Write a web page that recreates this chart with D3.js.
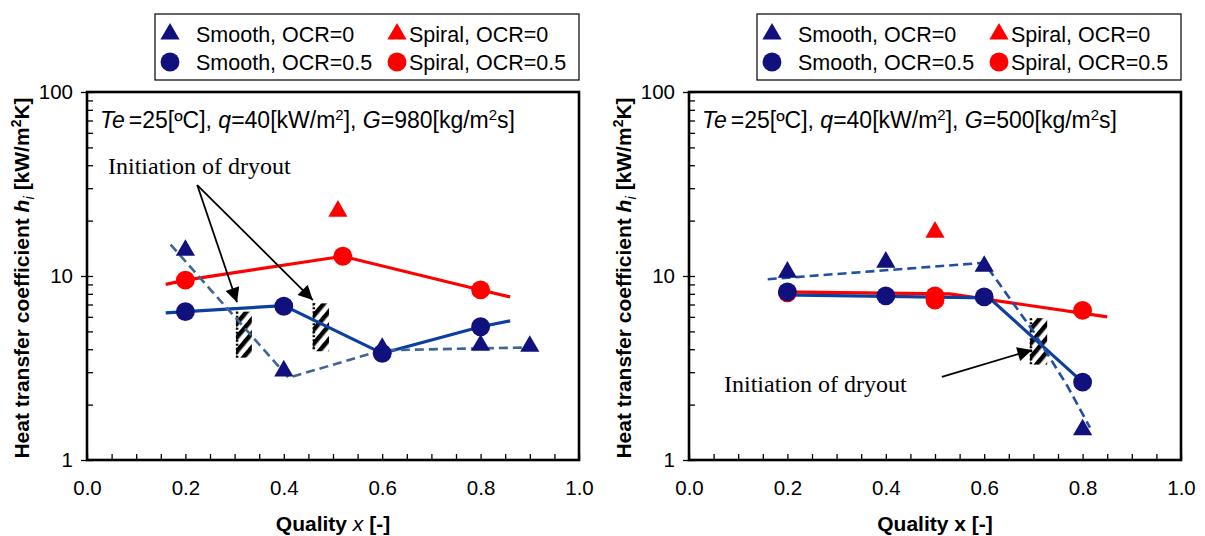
<!DOCTYPE html>
<html>
<head>
<meta charset="utf-8">
<script src="https://cdn.jsdelivr.net/npm/d3@7"></script>
<style>
  body { margin: 0; background: #fff; }
  svg { display: block; }
</style>
</head>
<body>
<div class="chart"></div>
<script>
// tick labels and legend
var xTicks = [0, 0.2, 0.4, 0.6, 0.8, 1.0];
var yTicks = [1, 10, 100];
var legendLabels = ["Smooth, OCR=0", "Spiral, OCR=0", "Smooth, OCR=0.5", "Spiral, OCR=0.5"];

// G = 980 (left)  [quality x, h]
var g980SmoothOcr0 = [[0.2, 13.8], [0.4, 3.05], [0.6, 4.05], [0.8, 4.2], [0.9, 4.15]];
var g980SmoothOcr05 = [[0.2, 6.4], [0.4, 6.85], [0.6, 3.8], [0.8, 5.3]];
var g980SpiralOcr0 = [[0.51, 22.5]];
var g980SpiralOcr05 = [[0.2, 9.5], [0.52, 12.8], [0.8, 8.4]];
var g980SmoothOcr0Line = [[0.17, 14.8], [0.41, 2.8], [0.6, 3.95], [0.92, 4.1]];
var g980SmoothOcr05Line = [[0.16, 6.3], [0.2, 6.4], [0.4, 6.9], [0.6, 3.8], [0.8, 5.3], [0.86, 5.7]];
var g980SpiralOcr05Line = [[0.16, 9.0], [0.2, 9.5], [0.52, 12.8], [0.8, 8.4], [0.86, 7.7]];
var g980Dryout = [[0.303, 0.335, 3.6, 6.4], [0.459, 0.492, 3.9, 7.1]];

// G = 500 (right)
var g500SmoothOcr0 = [[0.2, 10.5], [0.4, 11.9], [0.6, 11.3], [0.8, 1.46]];
var g500SmoothOcr05 = [[0.2, 8.2], [0.4, 7.8], [0.6, 7.7], [0.8, 2.65]];
var g500SpiralOcr0 = [[0.5, 17.3]];
var g500SpiralOcr05 = [[0.2, 8.1], [0.5, 7.8], [0.5, 7.4], [0.8, 6.5]];
var g500SmoothOcr0Line = [[0.16, 9.6], [0.6, 11.8], [0.7, 5.0], [0.77, 2.5], [0.815, 1.5]];
var g500SmoothOcr05Line = [[0.19, 7.9], [0.61, 7.6], [0.8, 2.65]];
var g500SpiralOcr05Line = [[0.185, 8.2], [0.53, 8.0], [0.85, 6.0]];
var g500Dryout = [[0.693, 0.728, 3.3, 5.9]];

var width = 1205, height = 536;
var navy = "#11117e", red = "#ff0000";
var sans = "'Liberation Sans', Arial, sans-serif";
var serif = "'Liberation Serif', 'Times New Roman', serif";

var svg = d3.select("div.chart").append("svg").attr("width", width).attr("height", height)
  .style("font-family", sans);

var defs = svg.append("defs");
var pat = defs.append("pattern")
  .attr("id", "hatch")
  .attr("patternUnits", "userSpaceOnUse")
  .attr("width", 9).attr("height", 9)
  .attr("patternTransform", "rotate(40)");
pat.append("rect").attr("width", 9).attr("height", 9).attr("fill", "#fff");
pat.append("rect").attr("width", 4.5).attr("height", 9).attr("fill", "#000");

defs.append("marker")
  .attr("id", "head")
  .attr("viewBox", "0 0 10 10")
  .attr("refX", 10).attr("refY", 5)
  .attr("markerWidth", 9).attr("markerHeight", 8)
  .attr("markerUnits", "strokeWidth")
  .attr("orient", "auto")
  .append("path").attr("d", "M0,0 L10,5 L0,10 Z").attr("fill", "#000");

var tri = d3.symbol().type(d3.symbolTriangle).size(160);
var circ = d3.symbol().type(d3.symbolCircle).size(280);

function drawPanel(p) {
  var xScale = d3.scaleLinear().domain([0, 1]).range([p.x0, p.x1]);
  var yScale = d3.scaleLog().domain([1, 100]).range([p.yBot, p.yTop]);
  var g = svg.append("g");

  // legend
  var lx = p.x1 - 424;
  g.append("rect").attr("x", lx).attr("y", 14).attr("width", 424).attr("height", 66)
    .attr("fill", "#fff").attr("stroke", "#000").attr("stroke-width", 1.2);
  var legendItems = [
    { sym: tri, color: navy, x: lx + 15, tx: lx + 41, y: 34 },
    { sym: tri, color: red, x: lx + 242, tx: lx + 254, y: 34 },
    { sym: circ, color: navy, x: lx + 15, tx: lx + 41, y: 62 },
    { sym: circ, color: red, x: lx + 242, tx: lx + 254, y: 62 }
  ];
  legendItems.forEach(function(d, i) {
    g.append("path").attr("d", d.sym()).attr("fill", d.color)
      .attr("transform", "translate(" + d.x + "," + d.y + ")");
    g.append("text").attr("x", d.tx).attr("y", d.y + 7.5).style("font-size", "21.5px")
      .text(legendLabels[i]);
  });

  // minor ticks
  var minorY = [];
  [1, 10].forEach(function(b) { for (var k = 2; k <= 9; k++) minorY.push(b * k); });
  var minorX = d3.range(0, 1.0001, 0.05);

  g.append("g").attr("transform", "translate(" + p.x0 + ",0)")
    .call(d3.axisRight(yScale).tickValues(minorY).tickSize(6).tickFormat(""))
    .call(function(a) { a.select(".domain").remove(); a.selectAll("line").attr("stroke-width", 1.3); });
  g.append("g").attr("transform", "translate(" + p.x0 + ",0)")
    .call(d3.axisLeft(yScale).tickValues(yTicks).tickSize(6).tickPadding(8).tickFormat(d3.format("d")))
    .call(function(a) {
      a.select(".domain").remove();
      a.selectAll("line").attr("x2", 6).attr("x1", -6).attr("stroke-width", 1.3);
      a.selectAll("text").style("font-size", "20.5px").style("font-family", sans).attr("fill", "#000");
    });
  g.append("g").attr("transform", "translate(0," + p.yBot + ")")
    .call(d3.axisTop(xScale).tickValues(minorX).tickSize(6).tickFormat(""))
    .call(function(a) { a.select(".domain").remove(); a.selectAll("line").attr("stroke-width", 1.3); });
  g.append("g").attr("transform", "translate(0," + p.yBot + ")")
    .call(d3.axisBottom(xScale).tickValues(xTicks).tickSize(0).tickPadding(20).tickFormat(d3.format(".1f")))
    .call(function(a) {
      a.select(".domain").remove();
      a.selectAll("text").style("font-size", "20.5px").style("font-family", sans).attr("fill", "#000");
    });

  // frame
  g.append("rect").attr("x", p.x0).attr("y", p.yTop)
    .attr("width", p.x1 - p.x0).attr("height", p.yBot - p.yTop)
    .attr("fill", "none").attr("stroke", "#000").attr("stroke-width", 2.6);

  // axis titles
  var xt = g.append("text").attr("x", (p.x0 + p.x1) / 2).attr("y", 531)
    .attr("text-anchor", "middle").style("font-size", "21px").style("font-weight", "bold");
  xt.append("tspan").text("Quality ");
  xt.append("tspan").style("font-style", p.xItalic ? "italic" : "normal").style("font-weight", p.xItalic ? "normal" : "bold").text("x");
  xt.append("tspan").text(" [-]");

  var yt = g.append("text")
    .attr("transform", "translate(" + (p.x0 - 58) + "," + ((p.yTop + p.yBot) / 2 + 2) + ") rotate(-90)")
    .attr("text-anchor", "middle").style("font-size", "21px").style("font-weight", "bold");
  yt.append("tspan").text("Heat transfer coefficient ");
  yt.append("tspan").style("font-style", "italic").text("h");
  yt.append("tspan").style("font-style", "italic").style("font-weight", "normal").style("font-size", "15px").attr("dy", 5).text("i");
  yt.append("tspan").attr("dy", -5).text(" [kW/m");
  yt.append("tspan").style("font-size", "14px").attr("dy", -8).text("2");
  yt.append("tspan").attr("dy", 8).text("K]");

  // condition text
  var ct = g.append("text").attr("x", p.x0 + 13).attr("y", p.yTop + 36).style("font-size", "23px");
  ct.append("tspan").style("font-style", "italic").text("Te");
  ct.append("tspan").attr("dx", 4).text("=25[ºC], ");
  ct.append("tspan").style("font-style", "italic").text("q");
  ct.append("tspan").text("=40[kW/m");
  ct.append("tspan").style("font-size", "15px").attr("dy", -8).text("2");
  ct.append("tspan").attr("dy", 8).text("], ");
  ct.append("tspan").style("font-style", "italic").text("G");
  ct.append("tspan").text("=" + p.g + "[kg/m");
  ct.append("tspan").style("font-size", "15px").attr("dy", -8).text("2");
  ct.append("tspan").attr("dy", 8).text("s]");

  var line = d3.line()
    .x(function(d) { return xScale(d[0]); })
    .y(function(d) { return yScale(d[1]); });

  // dryout hatched markers
  p.dryout.forEach(function(r) {
    g.append("rect").attr("x", xScale(r[0])).attr("y", yScale(r[3]))
      .attr("width", xScale(r[1]) - xScale(r[0])).attr("height", yScale(r[2]) - yScale(r[3]))
      .attr("fill", "url(#hatch)");
    g.append("line").attr("x1", xScale(r[0]) + 1).attr("x2", xScale(r[0]) + 1)
      .attr("y1", yScale(r[3])).attr("y2", yScale(r[2]))
      .attr("stroke", "#000").attr("stroke-width", 2.5).attr("stroke-dasharray", "2,2");
  });

  // lines
  g.append("path").datum(p.spiralLine).attr("fill", "none").attr("stroke", red).attr("stroke-width", 3.2).attr("d", line);
  g.append("path").datum(p.smoothLine).attr("fill", "none").attr("stroke", "#0c3f9e").attr("stroke-width", 3.2).attr("d", line);
  g.append("path").datum(p.smooth0Line).attr("fill", "none").attr("stroke", p.dashColor).attr("stroke-width", 2.6)
    .attr("stroke-dasharray", "9,5").attr("d", line);

  // markers
  function pts(data, sym, color) {
    g.selectAll(null).data(data).enter().append("path")
      .attr("d", sym()).attr("fill", color)
      .attr("transform", function(d) { return "translate(" + xScale(d[0]) + "," + yScale(d[1]) + ")"; });
  }
  pts(p.spiral05, circ, red);
  pts(p.smooth05, circ, navy);
  pts(p.smooth0, tri, navy);
  pts(p.spiral0, tri, red);

  // annotation
  g.append("text").attr("x", p.noteX).attr("y", p.noteY)
    .style("font-family", serif).style("font-size", "24px")
    .text("Initiation of dryout");
  p.arrows.forEach(function(a) {
    g.append("line")
      .attr("x1", xScale(a[0])).attr("y1", yScale(a[1]))
      .attr("x2", xScale(a[2])).attr("y2", yScale(a[3]))
      .attr("stroke", "#000").attr("stroke-width", 1.8).attr("marker-end", "url(#head)");
  });
}

drawPanel({
  x0: 87, x1: 579, yTop: 92, yBot: 460, g: "980", xItalic: true, dashColor: "#3e6594",
  smooth0: g980SmoothOcr0, smooth05: g980SmoothOcr05, spiral0: g980SpiralOcr0, spiral05: g980SpiralOcr05,
  smooth0Line: g980SmoothOcr0Line, smoothLine: g980SmoothOcr05Line, spiralLine: g980SpiralOcr05Line,
  dryout: g980Dryout, noteX: 108, noteY: 174,
  arrows: [[0.224, 31.2, 0.305, 7.2], [0.224, 31.2, 0.459, 7.4]]
});

drawPanel({
  x0: 689, x1: 1181, yTop: 92, yBot: 460, g: "500", xItalic: false, dashColor: "#1f50a3",
  smooth0: g500SmoothOcr0, smooth05: g500SmoothOcr05, spiral0: g500SpiralOcr0, spiral05: g500SpiralOcr05,
  smooth0Line: g500SmoothOcr0Line, smoothLine: g500SmoothOcr05Line, spiralLine: g500SpiralOcr05Line,
  dryout: g500Dryout, noteX: 724, noteY: 392,
  arrows: [[0.514, 2.83, 0.697, 3.96]]
});
</script>
</body>
</html>
